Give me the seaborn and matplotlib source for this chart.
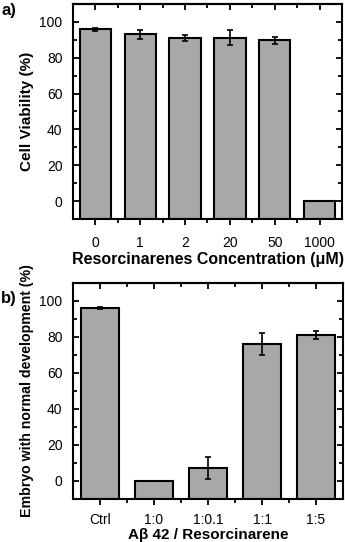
import numpy as np
import matplotlib
matplotlib.use("Agg")
import matplotlib.pyplot as plt
import seaborn as sns
from matplotlib.ticker import MultipleLocator

sns.set_style("ticks")
plt.rcParams['font.family'] = ['Liberation Sans', 'DejaVu Sans']
plt.rcParams.update({"text.color": "black", "axes.labelcolor": "black",
                     "xtick.color": "black", "ytick.color": "black",
                     "axes.edgecolor": "black"})

# Panel a data
conc_labels = ["0", "1", "2", "20", "50", "1000"]
viability = [95.8, 93.0, 91.0, 91.3, 89.8, 0.0]
viability_err = [1.0, 2.5, 1.8, 4.3, 2.0, 0.0]

# Panel b data
ratio_labels = ["Ctrl", "1:0", "1:0.1", "1:1", "1:5"]
embryo = [96.0, 0.0, 7.0, 76.2, 81.0]
embryo_err = [0.6, 0.0, 6.2, 6.1, 2.3]

BAR_COLOR = "#a8a8a8"
BASE = -10

fig = plt.figure(figsize=(3.45, 5.42), dpi=100)
ax1 = fig.add_axes([73/345, 1 - 219/542, 269/345, 215/542])
ax2 = fig.add_axes([73/345, 1 - 498.7/542, 270/345, 215.7/542])


def draw(ax, labels, vals, errs, xlabel, ylabel, panel, ypanel, ylsize,
         xlab_y, xlsize, xpad):
    sns.barplot(x=labels, y=vals, color=BAR_COLOR, saturation=1,
                edgecolor="black", linewidth=1.5, width=0.7, ax=ax,
                errorbar=None)
    for p in ax.patches:
        h = p.get_height()
        p.set_y(BASE)
        p.set_height(h - BASE)
    ax.errorbar(np.arange(len(labels)), vals, yerr=errs, fmt="none",
                ecolor="black", elinewidth=1.2, capsize=2.5, capthick=1.2,
                zorder=5)
    n = len(labels)
    ax.set_xlim(-0.5, n - 0.5)
    ax.set_ylim(-10, 110)
    ax.set_yticks([0, 20, 40, 60, 80, 100])
    ax.yaxis.set_minor_locator(MultipleLocator(10))
    ax.set_xticks(np.arange(n))
    ax.set_xticks(np.arange(0.5, n - 1, 1), minor=True)
    ax.tick_params(axis="y", which="both", direction="in", left=True,
                   right=True, labelsize=10, width=1.3, pad=7.5)
    ax.tick_params(axis="y", which="major", length=4)
    ax.tick_params(axis="y", which="minor", length=3)
    ax.tick_params(axis="x", which="both", direction="out", bottom=True,
                   top=False, labelsize=10, width=1.3, pad=xpad)
    ax.tick_params(axis="x", which="major", length=4)
    ax.tick_params(axis="x", which="minor", length=3)
    sec = ax.secondary_xaxis("top")
    sec.set_xticks(np.arange(n))
    sec.set_xticks(np.arange(0.5, n - 1, 1), minor=True)
    sec.tick_params(which="both", direction="in", labeltop=False, width=1.3)
    sec.tick_params(which="major", length=4)
    sec.tick_params(which="minor", length=3)
    sec.spines["top"].set_linewidth(1.5)
    for s in ax.spines.values():
        s.set_visible(True)
        s.set_linewidth(1.5)
        s.set_color("black")
    ax.set_xlabel(xlabel, fontsize=xlsize, fontweight="bold")
    ax.xaxis.label.set_va("center")
    ax.xaxis.set_label_coords(0.5, xlab_y)
    ax.set_ylabel(ylabel, fontsize=ylsize, fontweight="bold", labelpad=4)
    fig.text(1/345, ypanel, panel, fontsize=12, fontweight="bold",
             ha="left", va="center")


draw(ax1, conc_labels, viability, viability_err,
     "Resorcinarenes Concentration (μM)", "Cell Viability (%)", "a)",
     1 - 11/542, 11, (219 - 259.5) / 215, 11.5, 8.5)
draw(ax2, ratio_labels, embryo, embryo_err,
     "Aβ 42 / Resorcinarene", "Embryo with normal development (%)", "b)",
     1 - 299/542, 10.2, (498.7 - 534.5) / 215.7, 11, 6)

fig.savefig("out.png", dpi=100)
